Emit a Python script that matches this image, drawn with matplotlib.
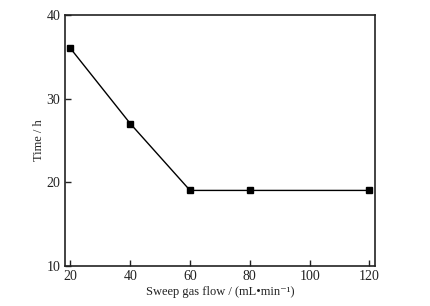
import matplotlib
matplotlib.use("Agg")
import matplotlib.pyplot as plt

# Datos del grafico
flow = [20, 40, 60, 80, 120]
time_h = [36, 27, 19, 19, 19]
x_ticks = [20, 40, 60, 80, 100, 120]
y_ticks = [10, 20, 30, 40]

plt.rcParams['font.family'] = ['Liberation Serif', 'DejaVu Serif']

fig = plt.figure(figsize=(4.3, 3.06), dpi=100)
ax = fig.add_axes([0.150, 0.132, 0.723, 0.819])
ax.plot(flow, time_h, marker='s', markersize=5, linestyle='-', color='black', linewidth=1.0)

ax.set_xlim(18, 122)
ax.set_ylim(10, 40)
ax.set_xticks(x_ticks)
ax.set_yticks(y_ticks)
ax.tick_params(direction='in', length=4, width=1, labelsize=10, pad=3, colors='#222222')
for s in ax.spines.values():
    s.set_linewidth(1.2)
    s.set_color('#222222')

ax.set_xlabel("Sweep gas flow / (mL\u2022min\u207b\u00b9)", fontsize=9, color='#222222', labelpad=2)
ax.set_ylabel("Time / h", fontsize=9, color='#222222', labelpad=1)

fig.savefig("out.png", dpi=100)
